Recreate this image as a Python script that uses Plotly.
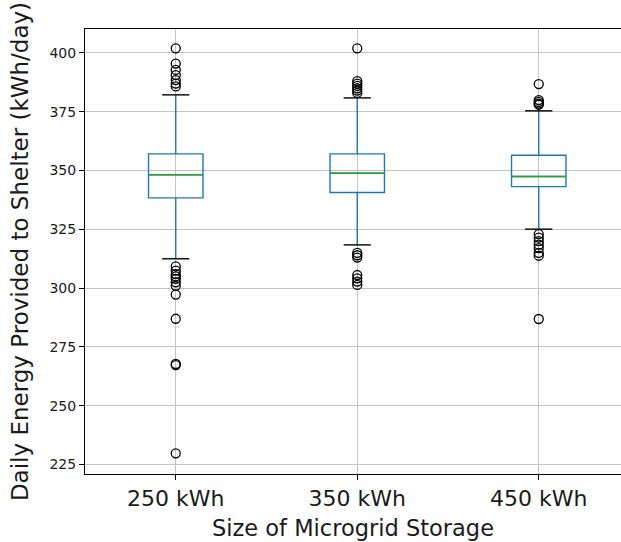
import plotly.graph_objects as go

# Daily energy delivered to the shelter for three storage sizes (kWh/day)
categories = ["250 kWh", "350 kWh", "450 kWh"]
positions = [1, 2, 3]

q1 = [338.4, 340.7, 343.2]
median = [348.2, 348.9, 347.5]
q3 = [357.1, 357.1, 356.5]
lower_whisker = [312.5, 318.4, 325.1]
upper_whisker = [382.2, 380.9, 375.4]

outliers_250 = [402.0, 395.5, 392.8, 390.6, 388.5, 387.0, 385.8,
                309.3, 307.5, 306.0, 305.0, 304.0, 302.5, 301.0, 297.3,
                287.0, 267.8, 267.3, 229.8]
outliers_350 = [402.0, 388.0, 387.0, 386.0, 385.0, 384.0, 383.0,
                315.0, 314.0, 313.0, 305.6, 304.2, 302.8, 301.4]
outliers_450 = [386.8, 380.0, 379.2, 378.5, 378.0,
                323.0, 321.5, 320.0, 318.5, 317.0, 315.0, 313.8, 286.9]
outliers = [outliers_250, outliers_350, outliers_450]

y_ticks = [225, 250, 275, 300, 325, 350, 375, 400]

BOX_W = 0.3
CAP_W = 0.15
BLUE = "#1f77b4"
GREEN = "#2ca02c"
FONT = "DejaVu Sans"
TEXT = "#1a1a1a"

fig = go.Figure()

fig.add_trace(go.Box(
    x=positions, q1=q1, median=median, q3=q3,
    lowerfence=lower_whisker, upperfence=upper_whisker,
    width=BOX_W, whiskerwidth=0, boxpoints=False,
    line=dict(color=BLUE, width=1.4),
    fillcolor="rgba(0,0,0,0)", hoverinfo="skip", showlegend=False,
))


def segments(vals, half):
    """Short horizontal segments centred on each box position."""
    xs, ys = [], []
    for p, v in zip(positions, vals):
        xs += [p - half, p + half, None]
        ys += [v, v, None]
    return xs, ys


# medians
mx, my = segments(median, BOX_W / 2)
fig.add_trace(go.Scatter(x=mx, y=my, mode="lines",
                         line=dict(color=GREEN, width=1.4),
                         showlegend=False, hoverinfo="skip"))

# whisker caps
lx, ly = segments(lower_whisker, CAP_W / 2)
ux, uy = segments(upper_whisker, CAP_W / 2)
fig.add_trace(go.Scatter(x=lx + ux, y=ly + uy, mode="lines",
                         line=dict(color="black", width=1.4),
                         showlegend=False, hoverinfo="skip"))

# fliers
for p, pts in zip(positions, outliers):
    fig.add_trace(go.Scatter(
        x=[p] * len(pts), y=pts, mode="markers",
        marker=dict(symbol="circle-open", size=9, color="black",
                    line=dict(width=1.3)),
        showlegend=False, hoverinfo="skip"))

fig.update_layout(
    width=621, height=542,
    margin=dict(l=85, r=0, t=29, b=68),
    paper_bgcolor="white", plot_bgcolor="white",
    font=dict(family=FONT, color=TEXT),
    showlegend=False,
)

fig.update_xaxes(
    range=[0.5, 0.5 + (621 - 85) / 181.5],
    tickmode="array", tickvals=positions, ticktext=categories,
    tickfont=dict(size=22, family=FONT, color=TEXT),
    showgrid=True, gridcolor="#c4c4c4", gridwidth=1,
    showline=True, linecolor="black", linewidth=1, mirror=True,
    ticks="outside", ticklen=5, tickcolor="black",
    zeroline=False,
    title=dict(text="Size of Microgrid Storage",
               font=dict(size=22.5, family=FONT, color=TEXT),
               standoff=9),
)

fig.update_yaxes(
    range=[221.0, 410.2],
    tickmode="array", tickvals=y_ticks,
    tickfont=dict(size=14, family=FONT, color=TEXT),
    showgrid=True, gridcolor="#c4c4c4", gridwidth=1,
    showline=True, linecolor="black", linewidth=1, mirror=False,
    ticks="outside", ticklen=5, tickcolor="black",
    zeroline=False,
    title=dict(text="Daily Energy Provided to Shelter (kWh/day)",
               font=dict(size=23, family=FONT, color=TEXT),
               standoff=14),
)

fig.write_html("out.html")
